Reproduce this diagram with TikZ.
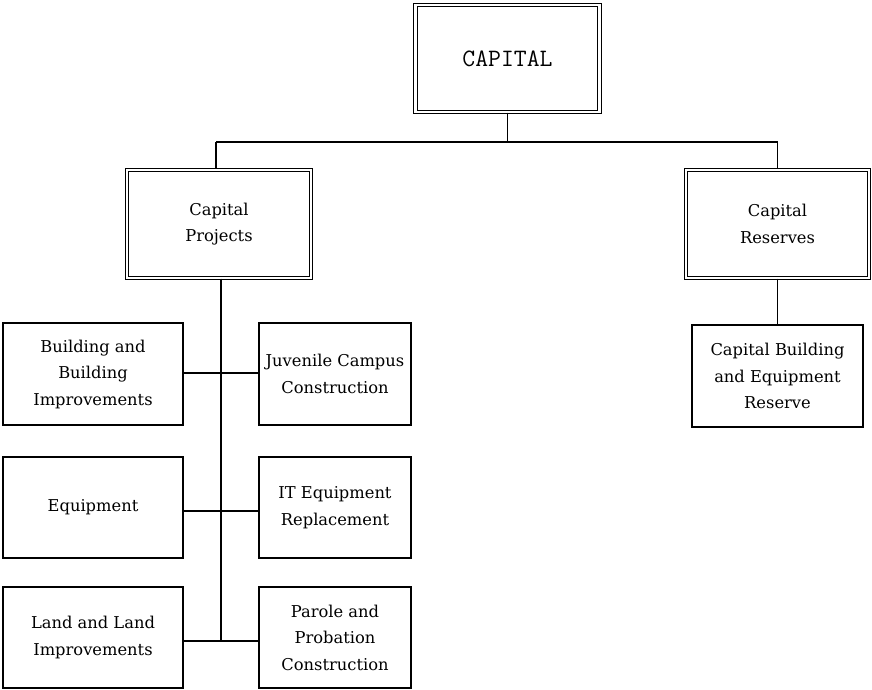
\documentclass[tikz,border=0pt]{standalone}
\usepackage{fontspec}
\setmainfont{DejaVu Serif}
\begin{document}
\begin{tikzpicture}[x=1pt,y=-1pt,
  box/.style={draw, line width=1.3pt, rectangle, inner sep=0pt, align=center,
    font=\fontsize{16.3}{26.5}\selectfont},
  dbox/.style={box, double, double distance=2.2pt, line width=1.2pt},
  conn/.style={line width=1.3pt}]
\useasboundingbox (0,0) rectangle (872,690);
\node[dbox, minimum width=184pt, minimum height=107pt] (cap) at (507.5,58.5) {\ttfamily\fontsize{25}{28}\selectfont CAPITAL};
\node[dbox, minimum width=184pt, minimum height=108pt] (proj) at (219,224) {Capital\\Projects};
\node[dbox, minimum width=183pt, minimum height=108pt] (res) at (777.5,224) {Capital\\Reserves};
\node[box, minimum width=180pt, minimum height=102pt] (bld) at (93,374) {Building and\\Building\\Improvements};
\node[box, minimum width=152pt, minimum height=102pt] (juv) at (335,374) {Juvenile Campus\\Construction};
\node[box, minimum width=180pt, minimum height=101pt] (eqp) at (93,507.5) {Equipment};
\node[box, minimum width=152pt, minimum height=101pt] (ite) at (335,507.5) {IT Equipment\\Replacement};
\node[box, minimum width=180pt, minimum height=101pt] (land) at (93,637.5) {Land and Land\\Improvements};
\node[box, minimum width=152pt, minimum height=101pt] (par) at (335,637.5) {Parole and\\Probation\\Construction};
\node[box, minimum width=171pt, minimum height=102pt] (cber) at (777.5,376) {Capital Building\\and Equipment\\Reserve};
\coordinate (bus) at (507.5,142);
\coordinate (pbus) at (216,142);
\coordinate (trunkend) at (221,641);
\draw[conn] (cap.south) -- (bus);
\draw[conn] (pbus) -- (pbus |- proj.north);
\draw[conn] (pbus) -| (res.north);
\draw[conn] (221,0 |- proj.south) -- (trunkend);
\draw[conn] (bld.east |- 0,373) -- (juv.west |- 0,373);
\draw[conn] (eqp.east |- 0,511) -- (ite.west |- 0,511);
\draw[conn] (land.east |- trunkend) -- (par.west |- trunkend);
\draw[conn] (res.south) -- (cber.north);
\end{tikzpicture}
\end{document}
